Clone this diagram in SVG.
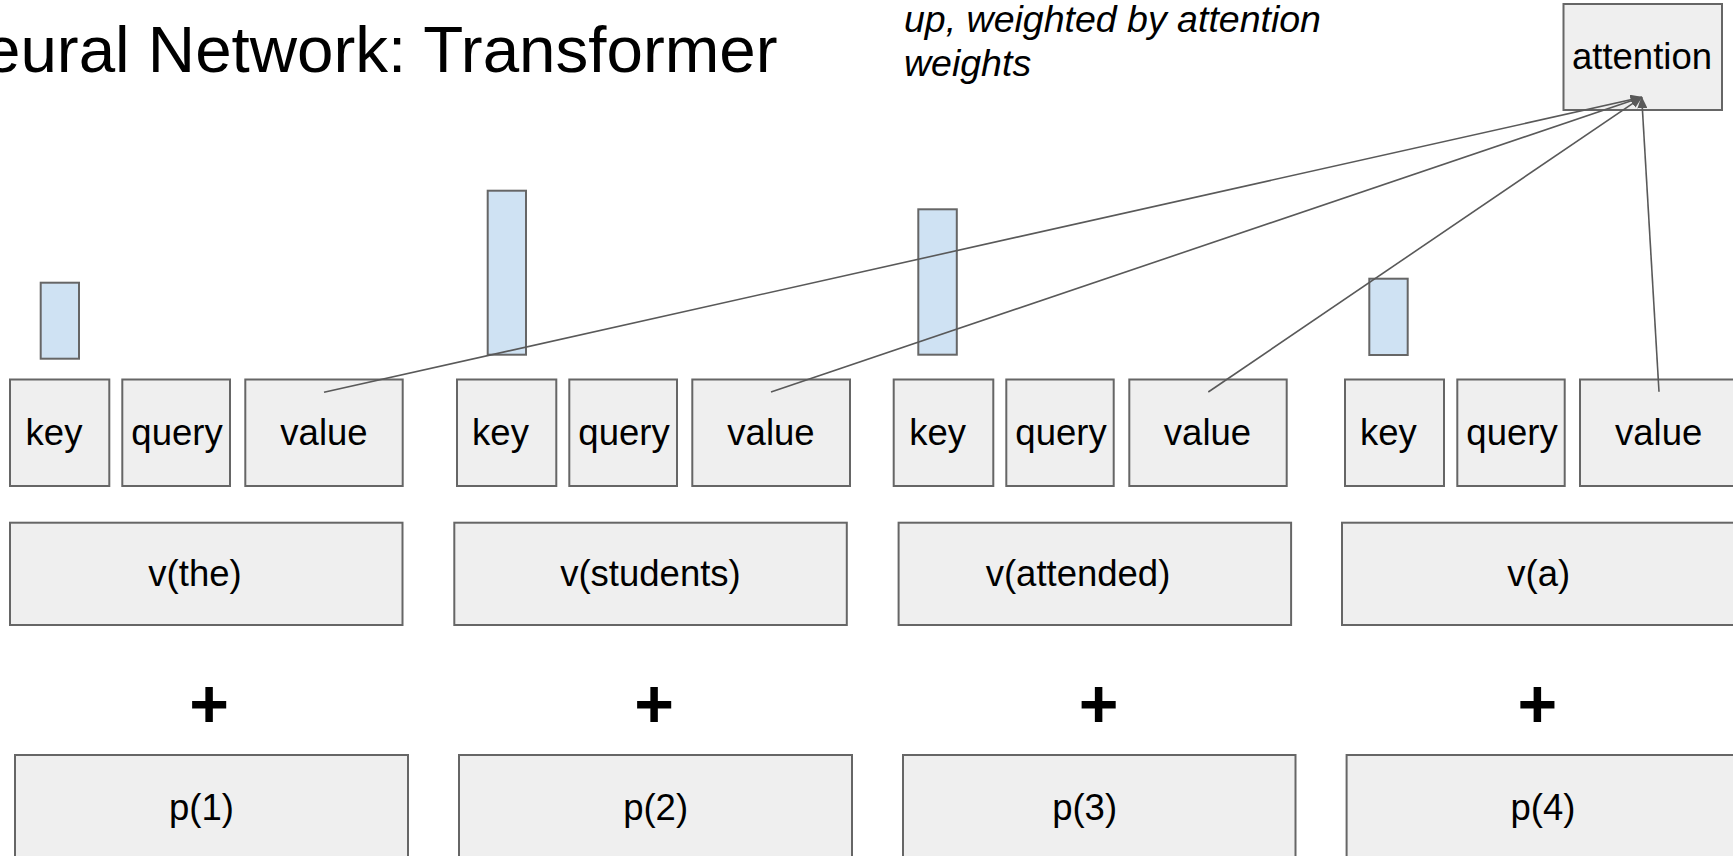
<svg xmlns="http://www.w3.org/2000/svg" width="1733" height="856" viewBox="0 0 1733 856">
<defs>
<style>
.box{fill:#efefef;stroke:#666666;stroke-width:2}
.bar{fill:#cfe2f3;stroke:#666666;stroke-width:2}
.lbl{font-family:"Liberation Sans",Arial,sans-serif;font-size:36.5px;fill:#000;text-anchor:middle}
.note{font-family:"Liberation Sans",Arial,sans-serif;font-size:37.5px;font-style:italic;fill:#000}
.plus{font-family:"Liberation Sans",Arial,sans-serif;font-size:68px;font-weight:bold;fill:#000;text-anchor:middle}
.conn{stroke:#595959;stroke-width:1.6;fill:none;marker-end:url(#arr)}
</style>
<marker id="arr" viewBox="0 0 12 10" refX="11" refY="5" markerWidth="12" markerHeight="10" markerUnits="userSpaceOnUse" orient="auto">
<path d="M0,0 L12,5 L0,10 z" fill="#595959"/>
</marker>
</defs>
<rect width="1733" height="856" fill="#ffffff"/>
<g id="title"><text x="-16" y="72" style="font-family:'Liberation Sans',Arial,sans-serif;font-size:65.5px;fill:#000">eural Network: Transformer</text></g>
<g id="note"><text class="note" x="904" y="32">up, weighted by attention</text><text class="note" x="904" y="76">weights</text></g>
<g id="attention"><rect class="box" x="1563.5" y="4" width="158.5" height="106"/><text class="lbl" x="1642" y="69">attention</text></g>

<g id="bar1"><rect class="bar" x="40.7" y="282.7" width="38.3" height="76"/></g>
<g id="bar2"><rect class="bar" x="487.7" y="190.7" width="38.3" height="164"/></g>
<g id="bar3"><rect class="bar" x="918.3" y="209.3" width="38.5" height="145.4"/></g>
<g id="bar4"><rect class="bar" x="1369.3" y="278.7" width="38.4" height="76.3"/></g>

<g id="key1"><rect class="box" x="10" y="379.5" width="99.3" height="106.5"/><text class="lbl" x="54" y="445">key</text></g>
<g id="query1"><rect class="box" x="122.3" y="379.5" width="107.7" height="106.5"/><text class="lbl" x="177" y="445">query</text></g>
<g id="value1"><rect class="box" x="245.3" y="379.5" width="157.4" height="106.5"/><text class="lbl" x="324" y="445">value</text></g>

<g id="key2"><rect class="box" x="457" y="379.5" width="99.3" height="106.5"/><text class="lbl" x="500.5" y="445">key</text></g>
<g id="query2"><rect class="box" x="569.3" y="379.5" width="107.7" height="106.5"/><text class="lbl" x="624" y="445">query</text></g>
<g id="value2"><rect class="box" x="692.3" y="379.5" width="157.7" height="106.5"/><text class="lbl" x="771" y="445">value</text></g>

<g id="key3"><rect class="box" x="893.7" y="379.5" width="99.6" height="106.5"/><text class="lbl" x="937.7" y="445">key</text></g>
<g id="query3"><rect class="box" x="1006.3" y="379.5" width="107.4" height="106.5"/><text class="lbl" x="1061" y="445">query</text></g>
<g id="value3"><rect class="box" x="1129.3" y="379.5" width="157.4" height="106.5"/><text class="lbl" x="1207.5" y="445">value</text></g>

<g id="key4"><rect class="box" x="1345" y="379.5" width="99" height="106.5"/><text class="lbl" x="1388.3" y="445">key</text></g>
<g id="query4"><rect class="box" x="1457.3" y="379.5" width="107.4" height="106.5"/><text class="lbl" x="1512" y="445">query</text></g>
<g id="value4"><rect class="box" x="1580" y="379.5" width="157.4" height="106.5"/><text class="lbl" x="1658.7" y="445">value</text></g>

<g id="v_the"><rect class="box" x="10" y="522.7" width="392.5" height="102.3"/><text class="lbl" x="195" y="586">v(the)</text></g>
<g id="v_students"><rect class="box" x="454.3" y="522.7" width="392.5" height="102.3"/><text class="lbl" x="650.5" y="586">v(students)</text></g>
<g id="v_attended"><rect class="box" x="898.6" y="522.7" width="392.5" height="102.3"/><text class="lbl" x="1078" y="586">v(attended)</text></g>
<g id="v_a"><rect class="box" x="1342" y="522.7" width="392.5" height="102.3"/><text class="lbl" x="1538.7" y="586">v(a)</text></g>

<g id="plus1"><text class="plus" x="209" y="727">+</text></g>
<g id="plus2"><text class="plus" x="654" y="727">+</text></g>
<g id="plus3"><text class="plus" x="1098.6" y="727">+</text></g>
<g id="plus4"><text class="plus" x="1537.4" y="727">+</text></g>

<g id="p1"><rect class="box" x="15" y="755" width="393" height="104"/><text class="lbl" x="201.4" y="820">p(1)</text></g>
<g id="p2"><rect class="box" x="459" y="755" width="393" height="104"/><text class="lbl" x="655.6" y="820">p(2)</text></g>
<g id="p3"><rect class="box" x="903" y="755" width="392.5" height="104"/><text class="lbl" x="1084.6" y="820">p(3)</text></g>
<g id="p4"><rect class="box" x="1346.6" y="755" width="393" height="104"/><text class="lbl" x="1542.9" y="820">p(4)</text></g>

<g id="connectors">
<line class="conn" x1="324" y1="392.3" x2="1641.7" y2="97.3"/>
<line class="conn" x1="771" y1="392" x2="1641.7" y2="97.3"/>
<line class="conn" x1="1208.3" y1="392" x2="1641.7" y2="97.3"/>
<line class="conn" x1="1659" y1="391.7" x2="1641.7" y2="97.3"/>
</g>
</svg>
